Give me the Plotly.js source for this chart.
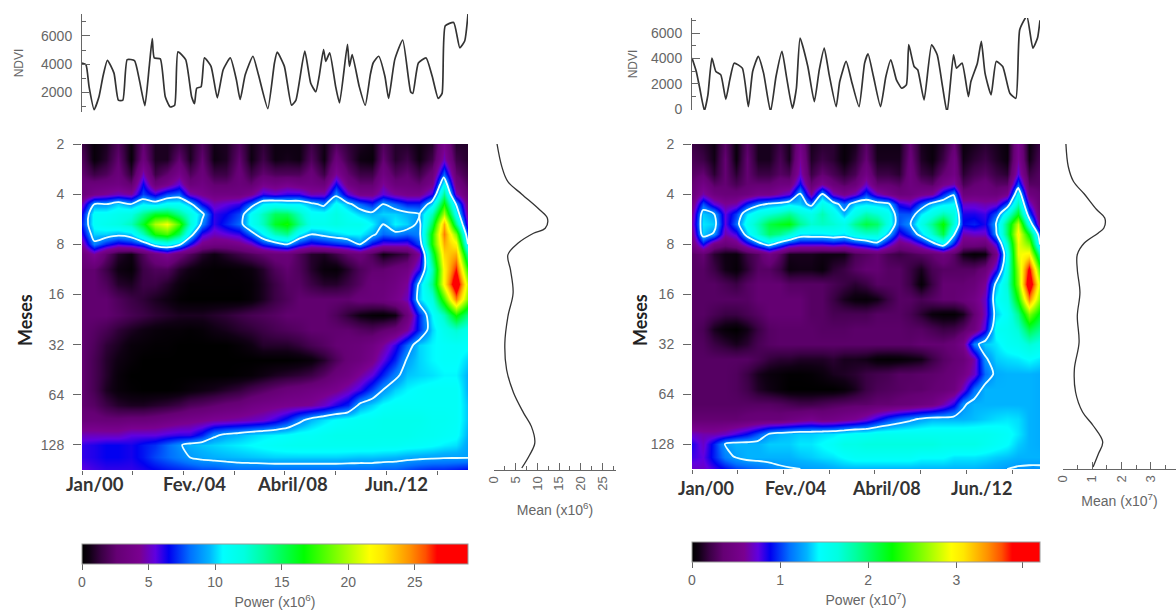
<!DOCTYPE html>
<html>
<head>
<meta charset="utf-8">
<script src="https://cdn.plot.ly/plotly-3.0.1.min.js"></script>
<style>html,body{margin:0;padding:0;background:#fff}#c{width:1176px;height:612px}</style>
</head>
<body>
<div id="c"></div>
<script>
// ---- tick labels ----
var periodTicks = [1,2,3,4,5,6,7];
var periodLabels = ["2","4","8","16","32","64","128"];
var dateTicks = [0,46,92,138,184,230,276,322];
var dateLabels = ["Jan/00","Fev./04","Abril/08","Jun./12"];
var dateLabelSamples = [0,92,184,276];

// ---- NDVI series ----
var ndviSamplesA = [0,3.6,6.4,11,15.4,19,23,29,33,37,41,47.6,52,57,61,63.7,65.5,71,75.5,80,84,87,94,99.4,102,104,108,111,117,122.7,128,134.5,140,143.4,148,155,160,168.5,174.5,177,183.5,190,194,202,207.4,212,215,219,221,224.6,230,233.5,240.7,242.5,245,251.4,256.8,261.4,264,269,274.7,278,283.6,290.8,298,300,305,312,317.6,323,326.5,329.4,337,342.6,347,350];
var ndviA = [4084,3964,2408,779,1689,3126,4276,3366,1450,1450,4324,4252,2886,1066,3845,5808,4443,4371,1689,970,1090,4874,4324,1689,1210,2288,2408,4443,3845,1617,3605,4443,2887,1497,3246,4563,3246,851,4084,4850,3845,1090,1450,4922,2647,2048,3126,5042,4204,4802,2408,1258,5401,3845,4683,2408,1090,3246,4084,4563,3126,1570,4324,5713,2048,1929,4084,4443,3126,1570,1929,6718,6958,5162,5641,7557];
var ndviSamplesB = [0,4.3,7.8,12.5,16,20,24,29,34,38,42.4,50.6,56.7,61,66.6,72,79,84.5,90.5,95,101,105,108.7,116.5,123,128,133,138,145,148.6,155,161,168,173.6,177,182.5,189.6,195,200,205.6,211,215.6,218,223.4,227,233.4,241,246.6,252,256.6,263,266,271.6,278,280.5,287,291,294.7,300.8,306,312.5,319.7,325.7,329.6,336.8,342.8,347.5,350];
var ndviB = [4030,2975,1660,-100,1135,4030,2975,2710,790,2320,3630,3240,215,2975,4160,2845,-180,2580,4555,2580,80,1660,5605,3370,610,3110,4815,2710,215,2185,3765,2055,215,3630,4370,2580,215,2580,3900,2320,1660,1925,5080,3370,3110,740,5080,4290,1790,-260,4290,3240,3630,1000,2185,3630,5340,2845,1135,3765,3370,1265,870,6260,7315,4815,5605,7000];

// ---- global (time-averaged) spectrum ----
var meanPeriodA = [1,1.45,1.75,2,2.31,2.48,2.68,2.78,2.98,3.21,3.51,3.97,4.44,4.97,5.5,5.96,6.36,6.63,6.96,7.2,7.46];
var meanA = [0.7,1.8,3.2,6.4,10.5,12.3,11.8,9.1,5.5,3.2,3.8,4.4,3.2,2.5,2.9,4.5,6.8,8.6,9.4,8.2,6.4];
var meanPeriodB = [1,1.45,1.75,2,2.31,2.48,2.68,2.78,2.98,3.21,3.51,3.97,4.44,4.97,5.5,5.96,6.36,6.63,6.96,7.2,7.46];
var meanB = [0.1,0.18,0.36,0.73,1.15,1.43,1.4,1.21,0.73,0.49,0.49,0.58,0.49,0.55,0.39,0.43,0.67,1.03,1.36,1.21,1.03];

// ---- wavelet power grids ----
var columnSamples = [0,11,22,33,44,55,66,77,88,98,109,120,131,142,153,164,175,186,197,208,219,230,241,252,263,273,284,295,306,317,328,339,350];
var rowPeriods = [1,1.3,1.6,1.8,2,2.2,2.4,2.6,2.8,3,3.2,3.5,3.8,4.1,4.4,4.7,5,5.3,5.6,5.9,6.2,6.5,6.8,7,7.25,7.5];
var powerA = [
[1.5,0.3,0.8,2,0.4,2.5,0.8,0.8,1.5,0.8,2,0.6,0.8,2,0.6,1.2,0.5,0.5,0.5,1.5,0.6,2,1.2,0.8,0.5,2,1,1,0.5,1,4,1,1],
[2,0.3,1,2.5,0.3,3,0.8,0.8,2.5,0.8,2.5,0.5,0.8,2.5,0.5,1.5,0.5,0.7,0.5,2,0.5,3,1.5,0.5,0.3,2.5,1,1.5,0.5,1.5,5,1.5,1],
[2.5,1.5,2,3,1.2,5,1.5,2.5,4,2,3,1.5,1.5,3,1.5,2.5,2,2,2,3,1.5,4.5,2.5,1.5,1.5,3.5,2,2.5,1.5,3,8,2.5,1.5],
[3,3,3.2,3.5,2.5,6.5,3,4,5.5,3,3.5,2.5,2.5,3,2.5,4,3.5,4,3.5,3.5,3,6.5,3.5,2.5,2.5,4.5,3,3,2.5,4,11,3.5,2],
[3,4,4.5,5,4.5,7.5,6,7.5,8,5,4.2,3.5,3.5,3.5,4.2,6,5.5,6,6,4.8,5,8.5,5.5,4,4,5.5,4.5,4,4,6,14,5,2.5],
[5,9,9,10,9,10.5,10,11,11,9.5,6.5,5,5.5,6,8,10.5,11,10.5,10.5,9.5,8.5,11,9.5,8,7,9,8,7,7,10,17,9,3.5],
[6.5,11,11,11.5,12,14,16,16,14,12,9.5,6,6.5,7.5,11,13,15,15,13,11,11,12,11,10,9.5,10,10,9.5,9,13,20,11,4],
[7,11,11.5,12,13,16,20,21.5,18,12.5,8.5,6,7,8,11,13,16,17,14,11.5,11.5,12,11.5,11.5,10.5,9,10.5,10,8.5,15,24,14,5],
[6,10,10,9.5,10,13,17,18,15,10,6,5,5.5,6,8,10.5,13,14,10.5,9,9.5,10,10.5,10.5,9.5,8,8.5,8,8.5,17,25,19,7],
[4.5,8.5,7,6,6.5,7.5,10,11,9.5,6.5,4,3.5,3.5,4,5,7,8,9,7,6,6.5,7,7.5,9,6.5,5.5,5.5,5.5,7.5,17,24,22,9],
[3,4.5,2.5,1,0.5,2,3.5,4.5,3,2,1,0.5,1,1.5,2,2.5,3,3,2,1,0.8,1.5,2.5,3,2,0.5,1,1.5,4.5,15,23,24,13],
[2.5,2.5,1.5,0.5,0.2,1.5,2,2,1,0.5,0.2,0.1,0.1,0.2,0.4,1,2,2.5,2,1,0.3,0.2,1,2,2.5,2.5,3,3.5,6,13,22,26.5,17],
[2.5,2.5,2,1,0.8,1.5,1.5,1,0.4,0.1,0.1,0.1,0.1,0.1,0.2,0.8,1.5,2.2,2.2,1.5,1,1,1.5,2.2,3,3,3.5,4.5,9.5,14,22,29,20],
[2.5,2.5,2.5,2,1.5,1.2,0.8,0.5,0.1,0,0,0,0,0,0.2,0.8,1.5,2,2.5,2.5,2.5,2.5,2.5,3,3,3.2,4,5,10,12,18,25,19],
[2.5,2.5,2.5,2.2,1.8,1.5,1.2,1,0.8,0.8,0.8,1,1.2,1.5,1.8,2,2.2,2.5,2.5,2.5,2.5,2,1.2,0.5,0.2,0.1,0.5,3,7,10.5,13,17,14],
[2.5,2.2,1.8,1.2,0.8,0.5,0.3,0.2,0.2,0.1,0.2,0.5,0.7,1,1.2,1.5,1.8,2,2.2,2.5,2.5,2.5,2.5,2.2,2,2.5,3,4.5,7,10,11.5,12.5,11.5],
[2.5,2,1.2,0.8,0.3,0.2,0.1,0.1,0,0,0,0,0,0.2,0.5,1,1,1,1.3,1.8,2.2,2.6,2.8,3,3.5,4.5,6,8,10,10.5,10.8,11,10.8],
[2.5,1.8,1,0.5,0.2,0,0,0,0,0,0,0,0,0,0,0,0,0,0.1,0.3,1,2,2.8,3.2,4,5.5,7,9.2,10,10.5,10.8,10.8,10],
[2.5,1.8,1,0.3,0,0,0,0,0,0,0,0,0,0.1,0.2,0.5,0.8,1,1.2,1.5,2.2,3,3.5,4.5,5.5,7,8.5,9.8,10,10.2,10.5,10.5,9.5],
[2.5,1.8,0.8,0.3,0.1,0,0,0,0.1,0.3,0.5,0.7,1,1.3,1.8,2.2,2.6,3,3.2,3.5,3.8,4.2,5,6,7.5,9,10,10.5,10.8,11,11,11,9.5],
[2.5,2.2,1.5,1,0.8,0.8,1,1.2,1.5,2,2.2,2.5,2.8,3,3.5,3.8,4,4.2,4.3,4.5,5.2,6.2,7,9.3,10,10.7,11,11,11,11,11,11,9.8],
[3,3,2.8,2.8,3,3,3.2,3.5,3.8,4,4.2,4.5,4.6,4.8,5,5.3,6,7,8.5,9.6,10.2,10.7,11,11.2,11.3,11.5,11.5,11.5,11.5,11.2,11.2,11,9.8],
[5,5,5,5,5.5,5.5,5.5,5.8,6,6,7,8.7,9.3,9.6,10,10.3,10.5,10.7,11,11,11.3,11.5,11.5,11.5,11.5,11.5,11.5,11.5,11.3,11.2,11,10.8,9.5],
[6,6.2,6.5,6.5,6.3,6.8,7.2,8,8.8,9.5,9.8,10,10.2,10.4,10.6,10.8,11,11.2,11.3,11.3,11.3,11.3,11.3,11.3,11.3,11.2,11.2,11,10.9,10.7,10.4,10.2,9.2],
[6,6.2,6.5,6.5,6.3,6.8,7.5,8,8.5,9,9.3,9.5,9.6,9.7,9.8,9.9,10,10,10,10,10,10,9.9,9.8,9.8,9.7,9.6,9.4,9.3,9.2,9.1,9.1,9.1],
[5.5,5.8,6,6,6,6.2,6.5,6.8,7,7.2,7.5,7.5,7.8,8,8,8,8,8,8,8,8,8,8,8,8,7.8,7.8,7.5,7.2,7,7,6.8,6.5]
];
var powerB = [
[2,1.5,0.7,3,0.5,3,1,1,2,1,5,1,1.5,1.5,0.4,1,3,0.8,0.8,0.8,3.5,1,0.5,1.5,3.5,0.5,1,1.5,1,0.4,5.5,0.6,2],
[2.5,2,0.8,3.5,0.5,3.5,1,1,2.5,1,6,1.2,2,1.5,0.4,1.5,3.5,1,1,1,4,1.2,0.5,2,4.5,0.8,1.5,2,1.2,0.5,6,0.8,2.5],
[3,3.5,1.5,3.5,1.5,3.5,2,2,3,2.5,7,2,3.5,2.5,1.5,2.5,5,2,2,1.5,4.5,2,1.5,3.5,5,1.5,2.5,3,2,1.5,7.5,2,3],
[3.5,5,3,3.5,2.5,3.5,3.5,3.5,4.5,4.5,9,3.5,6,4,3,4,7,3.5,3.5,3,4.5,3.5,3,5.5,6.5,2.5,3.5,4,3,3,10.5,3,3],
[4,6.5,4.5,4,4,4.5,5.5,5.5,6.5,7.5,12.5,6,12.3,7,5.5,7,10,7,5.5,4.2,4.5,5.5,6,9.5,12,4.2,4.5,4.5,4.2,5.5,15,4.5,3.5],
[5,10.5,7.5,6,6.5,9.5,11.5,12.5,13,14,13.5,11.5,16,13.5,11,13.5,14,13.5,13,8.5,7.5,10.5,13,14,14.5,7,7,6.5,7,10.5,18,7.5,3.5],
[6,13.5,12.5,7.5,10,14,16,17,18,19,17,16,18,16,13,16,18,17,15.5,10.5,10.5,14,16,18,16.5,8.5,8.5,8,10.5,16,22,10.5,4],
[6.5,14,13.5,7.5,11,15.5,18,21,22,22.5,19,17,17.5,17,16,19,21,20,16,10.5,12,16,19,23,16.5,9,9.5,8.5,12.5,20,28,15,5],
[5.5,13.5,12,6.5,8,13.5,17,20,19,17,14,14,14,14.5,14,16,17,17,13,8,10,13.5,17,21,13,6.5,7,7,12,20,30,22,10],
[4.5,9,5,4,5,8,11,13.5,11,9,8,8,8,8.5,8,9,10,11.5,8,5,6,8,11,14,9,4.5,4.5,4,8,17,29,26,12],
[3,3.5,1.5,0.7,0.5,2,3,5,3,1,1,1,0.7,0.7,0.8,2.5,3,3.5,2.5,2,2.5,3,3.5,4.5,3,0.8,0.2,0.5,5,15,29,30,18],
[3,3,2,0.8,0.3,1.5,3,3,2,0.6,0.8,0.8,0.4,1.5,2,3,3.5,3.5,3,3,2,1,2.5,3,3,3,3,4,8,16,27,37,24],
[3,3,3,2.5,2,3,3.5,3.5,3.5,3,3,3,3,2.5,2,1.5,2,3,3,3,2,0.3,2,3.5,3.5,3.5,4,6,13,17,26,39.5,28],
[3,3,3,3,3,3,3.5,3.5,3.5,3.5,3.5,3,3,2,1,0.4,0.3,0.8,2,3,3,2.5,3,3.5,3.5,4,5,7,14.5,16,23,34,26],
[3,3,2.5,2,2,2.5,3,3.5,3.5,3.5,3.5,3,3,2.5,2.5,2.5,2.5,3,3,3,2.5,1.5,0.5,0.2,0.2,1,3.5,7,13.5,15,19,26,22],
[3,2.5,1,0.3,0,0.8,2,3,3.2,3.2,3.2,3.2,3,3,3,3.2,3.2,3.2,3.2,3.2,3,3,2.5,2,2.2,3,4.5,8,15,15.5,17,21,19],
[3,2.8,2,1.5,1,1.5,2.5,3,3.2,3.2,3.2,3.2,3.2,3.2,3.2,3.2,3.2,3.2,3.2,3.2,3.2,3.5,3.5,3.5,4,5.5,11.5,13.5,14,15,15.5,17,16],
[3,3,3,3,3,3,2.5,1.8,1.5,1.5,1.2,1.2,1.2,1.5,1,1,0.8,0.2,0.1,0.2,0.5,0.8,2,3,3.5,4,6.5,12,13.5,13.8,14,14.5,14],
[3,3,3,3,2.8,2,1,0.5,0.3,0.1,0.1,0.2,0.5,1,1.2,1.5,2,2.3,2.5,3,3,3.2,3.3,3.5,4,5,7,11,12.8,13,13,13,12.8],
[3,3,3,3,2.8,2.2,1.2,0.7,0.3,0,0,0,0,0,0.3,1,2,2.6,2.8,3,3.2,3.2,3.5,3.8,4.5,7,11,13,13,13,13,13,12.8],
[3,3,3,3,3,3,3,3,2.8,2.5,2.2,2.2,2.5,2.8,3,3.2,3.2,3.5,3.5,3.8,4,4.5,5,6.5,8.5,12,13,13,13,13,13,13,12.8],
[3.5,3.5,3.5,3.5,3.5,3.8,4,4,4,4.5,5,5.5,4.8,5,5.5,6,7,8.5,10,11,11.8,12.5,13,13,13,13,13.2,13.5,13.8,14,13.8,13,12.8],
[7,6.5,6.5,7,8,9,10.5,12.3,13,13.2,13.5,13.5,13.8,14,14.5,15,15,15.5,15.5,15.5,15.5,15.5,15.5,15.5,15.5,15.5,15.5,15.5,15.2,14.8,14,13,12.8],
[8.5,7,9.5,12.3,13,13,13,13.5,13.5,13.5,14,14,14.5,15,16,16,16.5,16.5,16.5,16.5,16.5,16.5,16.5,16,16,16,16,15.5,15,14.5,13.5,13,12.8],
[8,7.5,9.5,11.5,12.5,13,13,13,13,13,13.3,13.5,13.8,14,14.5,15,15,15,15,15,15,14.5,14.5,14.5,14,14,14,13.8,13.5,13.3,13,13,13],
[7,7,8,9,10,10.5,11,11.5,12,12.2,12.3,12.4,12.5,12.8,13,13,13,13,13,13,13,13,13,13,13,13,13,12.8,12.6,12.3,12.1,12,12]
];
var powerMaxA = 29, powerMaxB = 39.5;
var contourA = 9, contourB = 12.3;
var colorTicksA = [0,5,10,15,20,25], colorTextA = ["0","5","10","15","20","25"];
var colorTicksB = [0,10,20,30,37.5], colorTextB = ["0","1","2","3"," "];

// ---- styling ----
var W = 1176, H = 612;
var sans = "Liberation Sans, Arial, sans-serif";
var grey = "#666", ink = "#333";
var scale = [[0,"#000000"],[0.02,"#100014"],[0.05,"#3a0044"],[0.09,"#650074"],[0.15,"#7a0090"],[0.19,"#6000e0"],[0.225,"#0000f0"],[0.28,"#0070ff"],[0.33,"#00b4ff"],[0.365,"#00ffff"],[0.42,"#00ffe0"],[0.47,"#00ffa0"],[0.575,"#00ff00"],[0.66,"#80ff00"],[0.745,"#ffff00"],[0.78,"#ffe800"],[0.85,"#ff9000"],[0.89,"#ff5000"],[0.92,"#ff0000"],[1,"#ff0000"]];
function dx(a,b){return [a/W,b/W];}
function dy(top,bot){return [1-bot/H,1-top/H];}

function panel(o){
  var s=o.suffix;
  var ax=function(pre,n){var k=n+s;return pre+"axis"+(k>1?k:"");};
  var id=function(pre,n){var k=n+s;return pre+(k>1?k:"");};
  var tr=[
    {type:"heatmap",x:columnSamples,y:rowPeriods,z:o.z,xaxis:id("x",1),yaxis:id("y",1),zmin:0,zmax:o.zmax,zsmooth:"best",colorscale:scale,hoverinfo:"skip",
      colorbar:{orientation:"h",x:o.left/W,xanchor:"left",y:1-o.barTop/H,yanchor:"top",len:o.right-o.left,lenmode:"pixels",thickness:20,thicknessmode:"pixels",xpad:0,ypad:0,outlinecolor:"#999",outlinewidth:1,ticks:"outside",ticklen:6,tickcolor:grey,tickmode:"array",tickvals:o.barTicks,ticktext:o.barText,tickfont:{family:sans,size:14,color:grey},title:{text:o.barTitle,side:"bottom",font:{family:sans,size:14,color:grey}}}},
    {type:"contour",x:columnSamples,y:rowPeriods,z:o.z,xaxis:id("x",1),yaxis:id("y",1),showscale:false,hoverinfo:"skip",contours:{coloring:"none",start:o.level,end:o.level,size:1,showlabels:false},line:{color:"#e8ffff",width:1.8,smoothing:0.7}},
    {type:"scatter",mode:"lines",x:o.lineX,y:o.lineY,xaxis:id("x",2),yaxis:id("y",2),line:{color:ink,width:1.7,shape:"spline",smoothing:0.5},hoverinfo:"skip"},
    {type:"scatter",mode:"lines",x:o.mean,y:o.meanY,xaxis:id("x",3),yaxis:id("y",3),line:{color:ink,width:1.3,shape:"spline"},hoverinfo:"skip"}
  ];
  var L={};
  L[ax("x",1)]={domain:dx(o.left,o.right),range:[0,350],anchor:id("y",1),tickmode:"array",tickvals:dateTicks,showticklabels:false,ticks:"outside",ticklen:4,tickcolor:grey,showline:false,showgrid:false,zeroline:false};
  L[ax("y",1)]={domain:dy(144,o.bottom),range:[7.5,1],anchor:id("x",1),tickmode:"array",tickvals:periodTicks,ticktext:periodLabels,ticks:"outside",ticklen:8,tickcolor:grey,ticklabelstandoff:6,tickfont:{family:sans,size:14,color:grey},showline:false,showgrid:false,zeroline:false};
  L[ax("x",2)]={domain:dx(o.left,o.right),range:[0,350],anchor:id("y",2),visible:false};
  L[ax("y",2)]={domain:dy(o.lineTop,o.lineBot),range:o.lineRange,anchor:id("x",2),tickvals:o.lineTicks,ticks:"inside",ticklen:8,tickcolor:grey,linecolor:grey,linewidth:1,showline:true,showgrid:false,zeroline:false,ticklabelstandoff:6,tickfont:{family:sans,size:14,color:grey},minor:{dtick:1000,ticks:"inside",ticklen:4,tickcolor:grey},title:{text:"NDVI",font:{family:sans,size:12,color:grey},standoff:o.ndviGap}};
  L[ax("x",3)]={domain:dx(o.meanLeft,o.meanRight),range:o.meanRange,anchor:id("y",3),tickvals:o.meanTicks,ticks:"inside",ticklen:7,tickcolor:grey,linecolor:grey,showline:true,showgrid:false,zeroline:false,tickangle:-90,tickfont:{family:sans,size:13,color:grey},minor:{dtick:o.meanMinor,ticks:"inside",ticklen:4,tickcolor:grey},title:{text:o.meanTitle,font:{family:sans,size:14,color:grey},standoff:o.meanGap}};
  L[ax("y",3)]={domain:dy(144,o.bottom),range:[7.5,1],anchor:id("x",3),visible:false};
  var notes=dateLabels.map(function(t,i){return {text:"<b>"+t+"</b>",x:dateLabelSamples[i],xref:id("x",1),y:1-o.dateY/H,yref:"paper",xshift:o.shifts[i],showarrow:false,xanchor:"center",yanchor:"middle",font:{family:"Lato, sans-serif",size:o.dateSize,color:"#333"}};});
  notes.push({text:"<b>Meses</b>",x:o.mesesX/W,xref:"paper",y:1-320/H,yref:"paper",textangle:-90,showarrow:false,xanchor:"center",yanchor:"middle",font:{family:"Lato, sans-serif",size:18,color:"#222"}});
  return {tr:tr,L:L,notes:notes};
}

var A=panel({suffix:0,z:powerA,zmax:powerMaxA,level:contourA,left:82,right:468,bottom:470,barTop:544,barTicks:colorTicksA,barText:colorTextA,barTitle:"Power (x10<sup>6</sup>)",lineX:ndviSamplesA,lineY:ndviA,lineTop:14,lineBot:112,lineRange:[611,7557],lineTicks:[2000,4000,6000],ndviGap:14,mean:meanA,meanY:meanPeriodA,meanLeft:494,meanRight:616,meanRange:[0,28.1],meanTicks:[0,5,10,15,20,25],meanMinor:2.5,meanTitle:"Mean (x10<sup>6</sup>)",meanGap:15,mesesX:25,dateY:484,dateSize:18.5,shifts:[13,11,8,10]});
var B=panel({suffix:3,z:powerB,zmax:powerMaxB,level:contourB,left:692,right:1040,bottom:469,barTop:542,barTicks:colorTicksB,barText:colorTextB,barTitle:"Power (x10<sup>7</sup>)",lineX:ndviSamplesB,lineY:ndviB,lineTop:18,lineBot:110,lineRange:[-50,7180],lineTicks:[0,2000,4000,6000],ndviGap:10,mean:meanB,meanY:meanPeriodB,meanLeft:1063,meanRight:1176,meanRange:[0,3.87],meanTicks:[0,1,2,3],meanMinor:0.5,meanTitle:"Mean (x10<sup>7</sup>)",meanGap:14,mesesX:640,dateY:488,dateSize:18,shifts:[14,12,12,15]});

var layout={width:W,height:H,margin:{l:0,r:0,t:0,b:0},paper_bgcolor:"#fff",plot_bgcolor:"#fff",showlegend:false,annotations:A.notes.concat(B.notes)};
Object.assign(layout,A.L,B.L);
Plotly.newPlot("c",A.tr.concat(B.tr),layout,{displayModeBar:false,staticPlot:true});
</script>
</body>
</html>
